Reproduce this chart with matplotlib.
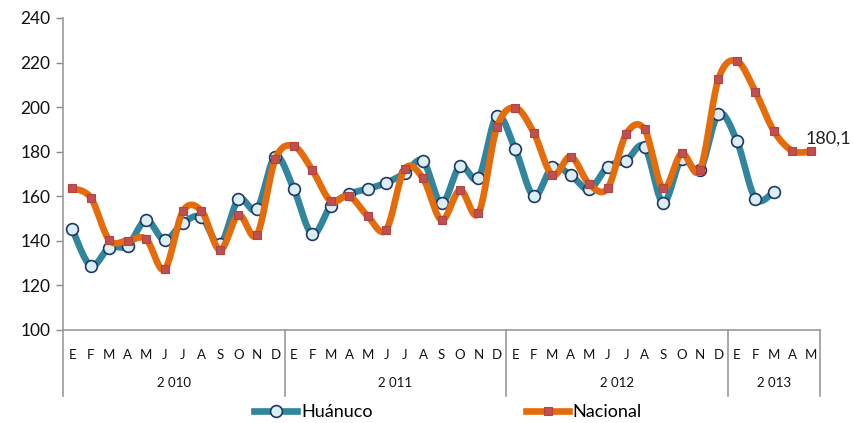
import numpy as np
import matplotlib
matplotlib.use("Agg")
import matplotlib.pyplot as plt
from matplotlib.lines import Line2D
import matplotlib.transforms as mtransforms

plt.rcParams['font.family'] = ['Lato', 'DejaVu Sans']

months = ["E", "F", "M", "A", "M", "J", "J", "A", "S", "O", "N", "D"]
years = ["2 010", "2 011", "2 012", "2 013"]
year_lengths = [12, 12, 12, 5]

huanuco = [145.3, 128.8, 136.9, 137.8, 149.3, 140.4, 148.1, 150.6, 138.4, 158.6, 154.3, 177.8,
           163.3, 143.0, 155.6, 161.0, 163.3, 166.0, 170.3, 175.8, 156.8, 173.6, 168.2, 196.0,
           181.0, 160.1, 173.0, 169.5, 163.1, 173.3, 176.0, 182.2, 157.1, 176.7, 171.8, 196.9,
           184.8, 159.0, 162.0]
nacional = [163.6, 159.4, 140.4, 140.1, 140.8, 127.2, 153.4, 153.4, 135.9, 151.6, 142.6, 176.7,
            182.5, 171.8, 157.9, 160.1, 151.1, 144.9, 172.2, 168.0, 149.3, 162.8, 152.3, 190.9,
            199.7, 188.5, 169.5, 177.8, 165.5, 163.6, 187.9, 190.0, 163.6, 179.2, 171.8, 212.6,
            220.7, 206.9, 189.3, 180.4, 180.1]
last_label = "180,1"

month_labels = []
for n in year_lengths:
    month_labels += months[:n]


def smooth(y, steps=20):
    """Excel-style smoothed line (Catmull-Rom through the data points)."""
    y = np.asarray(y, float)
    x = np.arange(len(y), dtype=float)
    px = np.concatenate([[x[0]], x, [x[-1]]])
    py = np.concatenate([[y[0]], y, [y[-1]]])
    xs, ys = [], []
    t = np.linspace(0, 1, steps, endpoint=False)
    for i in range(1, len(px) - 2):
        p0x, p1x, p2x, p3x = px[i - 1], px[i], px[i + 1], px[i + 2]
        p0y, p1y, p2y, p3y = py[i - 1], py[i], py[i + 1], py[i + 2]
        c1x, c1y = p1x + (p2x - p0x) / 6, p1y + (p2y - p0y) / 6
        c2x, c2y = p2x - (p3x - p1x) / 6, p2y - (p3y - p1y) / 6
        bx = (1 - t) ** 3 * p1x + 3 * (1 - t) ** 2 * t * c1x + 3 * (1 - t) * t ** 2 * c2x + t ** 3 * p2x
        by = (1 - t) ** 3 * p1y + 3 * (1 - t) ** 2 * t * c1y + 3 * (1 - t) * t ** 2 * c2y + t ** 3 * p2y
        xs.extend(bx)
        ys.extend(by)
    xs.append(x[-1])
    ys.append(y[-1])
    return np.array(xs), np.array(ys)


teal = "#31859C"
orange = "#E46C0A"

fig = plt.figure(figsize=(8.54, 4.23), dpi=100)
ax = fig.add_axes([63 / 854, 93 / 423, 757 / 854, 312 / 423])

xh = np.arange(len(huanuco))
xn = np.arange(len(nacional))
sx, sy = smooth(huanuco)
ax.plot(sx, sy, color=teal, lw=4.8, solid_capstyle='round', zorder=2)
ax.plot(xh, huanuco, ls='none', marker='o', ms=8.5, mfc="#DAEEF3", mec="#1F3864", mew=1.2, zorder=3)
sx, sy = smooth(nacional)
ax.plot(sx, sy, color=orange, lw=4.8, solid_capstyle='round', zorder=4)
ax.plot(xn, nacional, ls='none', marker='s', ms=5.5, mfc="#C0504D", mec="#B5433F", mew=0.8, zorder=5)

ax.annotate(last_label, (xn[-1], nacional[-1]), xytext=(-4, 3.5), textcoords='offset points',
            ha='left', va='bottom', fontsize=13, color='#222222')

ax.set_xlim(-0.5, len(month_labels) - 0.5)
ax.set_ylim(100, 240)
ax.set_yticks(np.arange(100, 241, 20))
ax.tick_params(axis='y', labelsize=12.5, length=5, color='#888888', width=1, pad=4, labelcolor='#111111')
ax.set_xticks(np.arange(len(month_labels)))
ax.set_xticklabels(month_labels, fontsize=9.5, color='#111111')
ax.tick_params(axis='x', length=0, pad=14)

for s in ['top', 'right']:
    ax.spines[s].set_visible(False)
for s in ['left', 'bottom']:
    ax.spines[s].set_color('#999999')
    ax.spines[s].set_linewidth(1.2)

trans = mtransforms.blended_transform_factory(ax.transData, ax.transAxes)
start = 0
bounds = [-0.5]
for yr, n in zip(years, year_lengths):
    center = start + (n - 1) / 2
    ax.text(center, -0.17, yr, transform=trans, ha='center', va='center', fontsize=9.5, color='#111111')
    start += n
    bounds.append(start - 0.5)
for b in bounds:
    ax.plot([b, b], [0, -0.21], transform=trans, color='#999999', lw=1.2, clip_on=False)

handles = [Line2D([], [], color=teal, lw=4.8, marker='o', ms=8.5, mfc="#DAEEF3", mec="#1F3864", mew=1.2),
           Line2D([], [], color=orange, lw=4.8, marker='s', ms=5.5, mfc="#C0504D", mec="#B5433F", mew=0.8)]
fig.legend(handles, ["Huánuco", "Nacional"], loc='center', bbox_to_anchor=(448 / 854, 1 - 412 / 423),
           ncol=2, frameon=False, fontsize=13, handlelength=2.4, handletextpad=0.2, columnspacing=8.5)

fig.savefig("out.png", dpi=100)
